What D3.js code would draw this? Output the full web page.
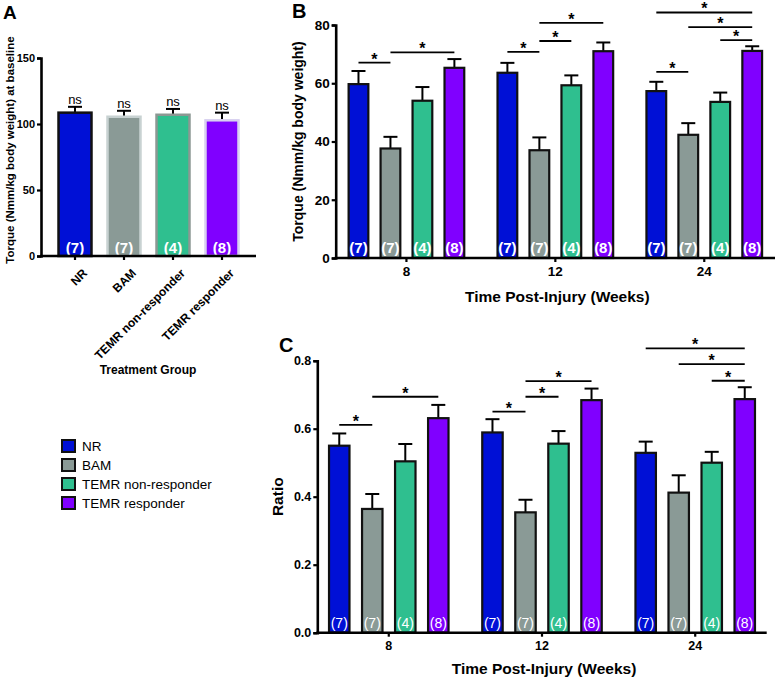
<!DOCTYPE html>
<html><head><meta charset="utf-8">
<script src="https://cdn.jsdelivr.net/npm/d3@7"></script>
<style>body{margin:0;background:#fff}svg{display:block;font-family:"Liberation Sans",Arial,Helvetica,sans-serif}</style>
</head><body><svg id="c" width="777" height="678"></svg>
<script>
// ---------- DATA ----------
const groups = ["NR", "BAM", "TEMR non-responder", "TEMR responder"];
const groupColors = ["#0010d6", "#8a9a96", "#2fbf8f", "#8000ff"];
const baselineStroke = ["#111111", "#c8d2d2", "#8c9893", "#d8d0f0"];
const nLabels = ["(7)", "(7)", "(4)", "(8)"];
const weeks = ["8", "12", "24"];

// Panel A: baseline torque
const baselineMean = [108.6, 105.5, 107.0, 102.8];
const baselineSem  = [4.4, 4.5, 4.4, 5.8];
const baselineSig  = ["ns", "ns", "ns", "ns"];
const ticksA = [0, 50, 100, 150];

// Panel B: torque (mean, sem) per week, ordered as groups
const torque8    = [59.7, 37.6, 54.0, 65.3];
const torque8Sem = [4.5, 4.0, 4.7, 3.0];
const torque12    = [63.6, 37.0, 59.3, 71.0];
const torque12Sem = [3.4, 4.4, 3.4, 3.0];
const torque24    = [57.3, 42.3, 53.6, 71.1];
const torque24Sem = [3.2, 4.0, 3.2, 1.6];
const ticksB = [0, 20, 40, 60, 80];
// significance: [week, groupA, groupB, height in data units]
const sigB = [["8",0,1,67.1],["8",1,3,70.6],["12",0,1,70.8],["12",1,2,74.5],["12",1,3,80.7],
              ["24",0,1,63.9],["24",2,3,74.8],["24",1,3,79.3],["24",0,3,84.3]];

// Panel C: ratio
const ratio8    = [0.550, 0.364, 0.504, 0.631];
const ratio8Sem = [0.036, 0.044, 0.051, 0.039];
const ratio12    = [0.589, 0.354, 0.556, 0.684];
const ratio12Sem = [0.039, 0.037, 0.037, 0.034];
const ratio24    = [0.529, 0.412, 0.500, 0.687];
const ratio24Sem = [0.033, 0.051, 0.032, 0.035];
const ticksC = [0, 0.2, 0.4, 0.6, 0.8];
const sigC = [["8",0,1,0.611],["8",1,3,0.694],["12",0,1,0.650],["12",1,2,0.694],["12",1,3,0.740],
              ["24",0,3,0.836],["24",1,3,0.790],["24",2,3,0.741]];

// ---------- DRAW ----------
const svg = d3.select("#c");
const F = "'Liberation Sans',Arial,Helvetica,sans-serif";

function styleAxis(g, fs) {
  g.selectAll(".domain").attr("stroke", "#000").attr("stroke-width", 2.6);
  g.selectAll(".tick line").attr("stroke", "#000").attr("stroke-width", 2.2);
  g.selectAll(".tick text").attr("fill", "#000").attr("font-weight", "bold")
    .attr("font-size", fs).attr("font-family", F);
}

// ===== Panel A =====
(function () {
  const x = d3.scaleBand().domain(groups).range([41, 256]).paddingInner(0.286).paddingOuter(0.337);
  const y = d3.scaleLinear().domain([0, 150]).range([256, 58]);
  const g = svg.append("g");
  const data = groups.map((k, i) => ({k, i, m: baselineMean[i], s: baselineSem[i]}));
  data.forEach(d => {
    const cx = x(d.k) + x.bandwidth() / 2;
    g.append("line").attr("x1", cx).attr("x2", cx).attr("y1", y(d.m)).attr("y2", y(d.m + d.s))
      .attr("stroke", "#000").attr("stroke-width", 2);
    g.append("line").attr("x1", cx - 7).attr("x2", cx + 7).attr("y1", y(d.m + d.s)).attr("y2", y(d.m + d.s))
      .attr("stroke", "#000").attr("stroke-width", 2);
    g.append("text").attr("x", cx).attr("y", y(d.m + d.s) - 3).attr("text-anchor", "middle")
      .attr("font-size", 13).attr("font-family", F).text(baselineSig[d.i]);
  });
  g.selectAll("rect.bar").data(data).join("rect")
    .attr("x", d => x(d.k) + 1).attr("width", x.bandwidth() - 2)
    .attr("y", d => y(d.m)).attr("height", d => y(0) - y(d.m))
    .attr("fill", d => groupColors[d.i]).attr("stroke", d => baselineStroke[d.i]).attr("stroke-width", 2.5);
  g.selectAll("text.n").data(data).join("text")
    .attr("x", d => x(d.k) + x.bandwidth() / 2).attr("y", 252.5).attr("text-anchor", "middle")
    .attr("fill", "#fff").attr("font-weight", "bold").attr("font-size", 15).attr("font-family", F)
    .text(d => nLabels[d.i]);
  const ya = g.append("g").attr("transform", "translate(41,0)")
    .call(d3.axisLeft(y).tickValues(ticksA).tickSize(4).tickPadding(2));
  styleAxis(ya, 11);
  const xa = g.append("g").attr("transform", "translate(0,256)")
    .call(d3.axisBottom(x).tickSize(4).tickSizeOuter(0).tickPadding(3));
  styleAxis(xa, 12);
  xa.select(".domain").attr("d", "M40,0H256");
  xa.selectAll(".tick text").attr("text-anchor", "end").attr("dy", "0.35em")
    .attr("transform", "translate(5,10) rotate(-45)");
  g.append("text").attr("transform", "translate(14,150) rotate(-90)").attr("text-anchor", "middle")
    .attr("font-weight", "bold").attr("font-size", 11.5).attr("font-family", F)
    .text("Torque (Nmm/kg body weight) at baseline");
  g.append("text").attr("x", 148).attr("y", 374).attr("text-anchor", "middle")
    .attr("font-weight", "bold").attr("font-size", 12).attr("font-family", F).text("Treatment Group");
  g.append("text").attr("x", 3).attr("y", 19).attr("font-weight", "bold").attr("font-size", 19)
    .attr("font-family", F).text("A");
})();

// ===== Panels B & C =====
function groupedPanel(o) {
  const x0 = d3.scaleBand().domain(weeks).range([o.left, o.right]).paddingInner(o.pi).paddingOuter(o.po);
  const x1 = d3.scaleBand().domain(groups).range([0, x0.bandwidth()]).paddingInner(0.32);
  const y = d3.scaleLinear().domain(o.domain).range([o.bottom, o.top]);
  const g = svg.append("g");
  const rows = [];
  weeks.forEach((w, wi) => groups.forEach((k, i) => rows.push({w, k, i, m: o.means[wi][i], s: o.sems[wi][i]})));
  const cx = d => x0(d.w) + x1(d.k) + x1.bandwidth() / 2;
  rows.forEach(d => {
    g.append("line").attr("x1", cx(d)).attr("x2", cx(d)).attr("y1", y(d.m)).attr("y2", y(d.m + d.s))
      .attr("stroke", "#000").attr("stroke-width", 2);
    g.append("line").attr("x1", cx(d) - 7).attr("x2", cx(d) + 7).attr("y1", y(d.m + d.s)).attr("y2", y(d.m + d.s))
      .attr("stroke", "#000").attr("stroke-width", 2);
  });
  g.selectAll("rect.bar").data(rows).join("rect")
    .attr("x", d => x0(d.w) + x1(d.k) + 1).attr("width", x1.bandwidth() - 2)
    .attr("y", d => y(d.m)).attr("height", d => y(0) - y(d.m))
    .attr("fill", d => groupColors[d.i]).attr("stroke", "#111").attr("stroke-width", 2.2);
  g.selectAll("text.n").data(rows).join("text")
    .attr("x", cx).attr("y", o.bottom - 5).attr("text-anchor", "middle")
    .attr("fill", "#fff").attr("font-weight", o.nBold ? "bold" : "normal").attr("font-size", o.nFs)
    .attr("font-family", F).text(d => nLabels[d.i]);
  o.sig.forEach(([w, a, b, h]) => {
    const xa = x0(w) + x1(groups[a]) + x1.bandwidth() / 2;
    const xb = x0(w) + x1(groups[b]) + x1.bandwidth() / 2;
    g.append("line").attr("x1", xa).attr("x2", xb).attr("y1", y(h)).attr("y2", y(h))
      .attr("stroke", "#000").attr("stroke-width", 1.8);
    g.append("text").attr("x", (xa + xb) / 2).attr("y", y(h) + 2).attr("text-anchor", "middle")
      .attr("font-size", 16).attr("font-weight", "bold").attr("font-family", F).text("*");
  });
  const ya = g.append("g").attr("transform", `translate(${o.left},0)`)
    .call(d3.axisLeft(y).tickValues(o.ticks).tickFormat(o.fmt).tickSize(4).tickPadding(2));
  styleAxis(ya, o.tfs);
  const xa = g.append("g").attr("transform", `translate(0,${o.bottom})`)
    .call(d3.axisBottom(x0).tickSize(4).tickSizeOuter(0).tickPadding(4));
  styleAxis(xa, o.tfs);
  xa.select(".domain").attr("d", `M${o.left - 1},0H${o.right}`);
  g.append("text").attr("transform", `translate(${o.ytX},${(o.top + o.bottom) / 2}) rotate(-90)`)
    .attr("text-anchor", "middle").attr("font-weight", "bold").attr("font-size", o.ytFs)
    .attr("font-family", F).text(o.yTitle);
  g.append("text").attr("x", (o.left + o.right) / 2 + 2).attr("y", o.xtY).attr("text-anchor", "middle")
    .attr("font-weight", "bold").attr("font-size", 15.5).attr("font-family", F).text("Time Post-Injury (Weeks)");
  g.append("text").attr("x", o.lx).attr("y", o.ly).attr("font-weight", "bold").attr("font-size", 20)
    .attr("font-family", F).text(o.letter);
}

groupedPanel({
  left: 335.7, right: 775, top: 25, bottom: 258, pi: 0.21, po: 0.08, domain: [0, 80],
  means: [torque8, torque12, torque24], sems: [torque8Sem, torque12Sem, torque24Sem],
  ticks: ticksB, fmt: d3.format("d"), tfs: 13.5, sig: sigB, nBold: true, nFs: 15,
  yTitle: "Torque (Nmm/kg body weight)", ytX: 303, ytFs: 14, xtY: 302, letter: "B", lx: 292, ly: 18
});
groupedPanel({
  left: 317.3, right: 766.7, top: 360.7, bottom: 632.7, pi: 0.207, po: 0.07, domain: [0, 0.8],
  means: [ratio8, ratio12, ratio24], sems: [ratio8Sem, ratio12Sem, ratio24Sem],
  ticks: ticksC, fmt: d3.format(".1f"), tfs: 12.5, sig: sigC, nBold: false, nFs: 14,
  yTitle: "Ratio", ytX: 283, ytFs: 15.5, xtY: 674, letter: "C", lx: 279, ly: 352
});

// ===== Legend =====
const leg = svg.append("g");
groups.forEach((k, i) => {
  const cy = 446 + i * 19;
  leg.append("rect").attr("x", 62).attr("y", cy - 6).attr("width", 13).attr("height", 12)
    .attr("fill", groupColors[i]).attr("stroke", "#111").attr("stroke-width", 2);
  leg.append("text").attr("x", 82).attr("y", cy + 5).attr("font-size", 13.5).attr("font-family", F).text(k);
});
</script></body></html>
